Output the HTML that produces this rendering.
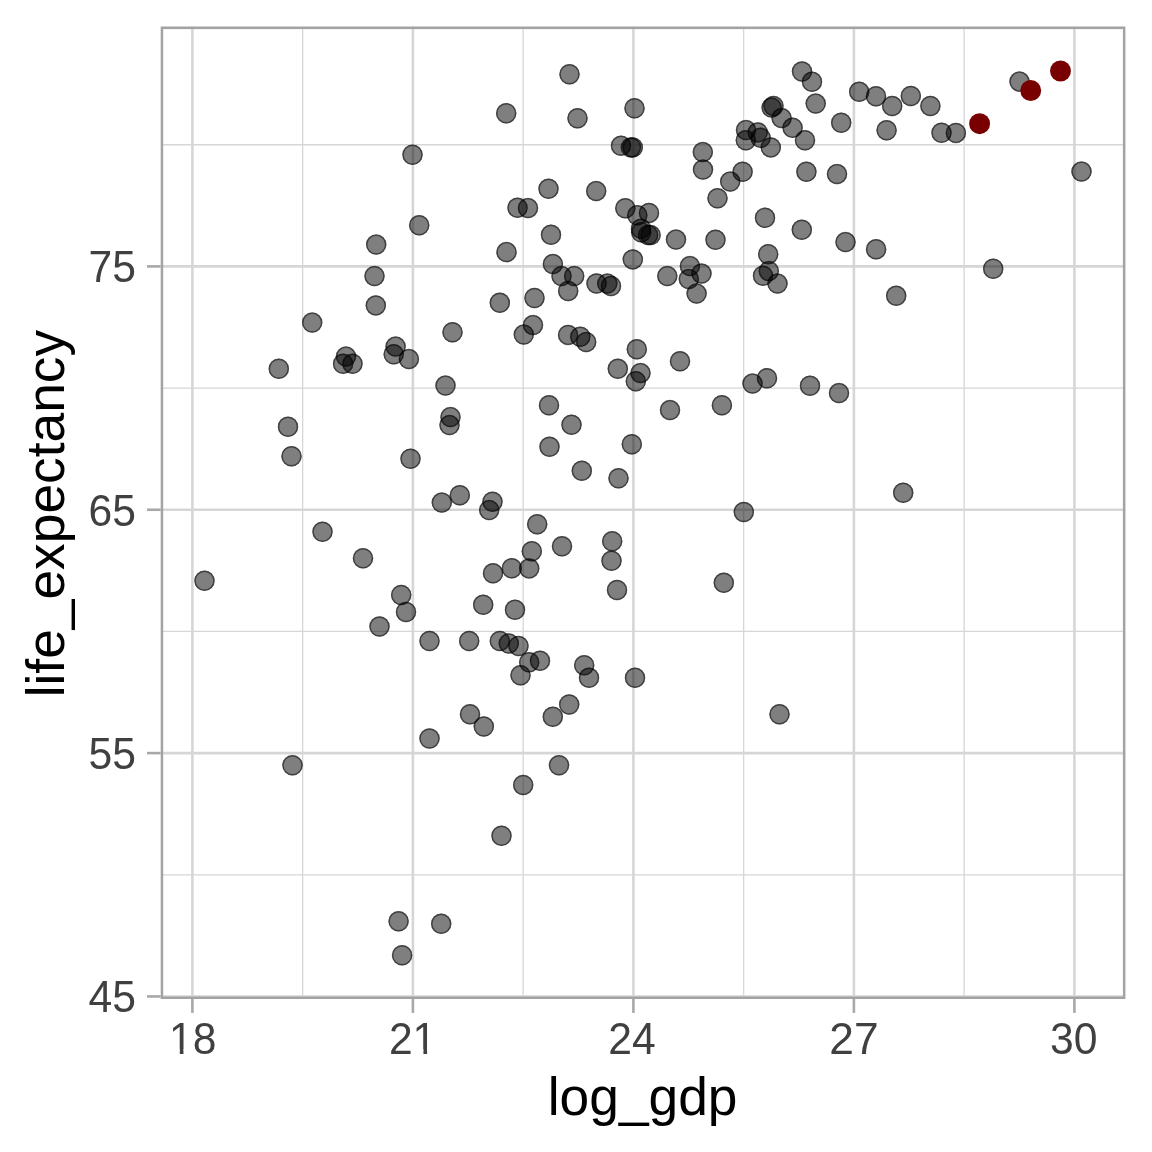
<!DOCTYPE html><html><head><meta charset="utf-8"><title>plot</title><style>html,body{margin:0;padding:0;background:#fff}svg{display:block}text{font-family:"Liberation Sans",Arial,Helvetica,sans-serif}</style></head><body>
<svg width="1152" height="1152" viewBox="0 0 1152 1152">
<rect width="1152" height="1152" fill="#fff"/>
<defs><clipPath id="p"><rect x="160.70" y="26.60" width="964.70" height="972.40"/></clipPath></defs>
<g clip-path="url(#p)">
<line x1="302.65" x2="302.65" y1="26.60" y2="999.00" stroke="#d6d6d6" stroke-width="1.3"/>
<line x1="523.15" x2="523.15" y1="26.60" y2="999.00" stroke="#d6d6d6" stroke-width="1.3"/>
<line x1="743.65" x2="743.65" y1="26.60" y2="999.00" stroke="#d6d6d6" stroke-width="1.3"/>
<line x1="964.15" x2="964.15" y1="26.60" y2="999.00" stroke="#d6d6d6" stroke-width="1.3"/>
<line x1="160.70" x2="1125.40" y1="874.78" y2="874.78" stroke="#d6d6d6" stroke-width="1.3"/>
<line x1="160.70" x2="1125.40" y1="631.42" y2="631.42" stroke="#d6d6d6" stroke-width="1.3"/>
<line x1="160.70" x2="1125.40" y1="388.08" y2="388.08" stroke="#d6d6d6" stroke-width="1.3"/>
<line x1="160.70" x2="1125.40" y1="144.73" y2="144.73" stroke="#d6d6d6" stroke-width="1.3"/>
<line x1="192.40" x2="192.40" y1="26.60" y2="999.00" stroke="#d6d6d6" stroke-width="2.6"/>
<line x1="412.90" x2="412.90" y1="26.60" y2="999.00" stroke="#d6d6d6" stroke-width="2.6"/>
<line x1="633.40" x2="633.40" y1="26.60" y2="999.00" stroke="#d6d6d6" stroke-width="2.6"/>
<line x1="853.90" x2="853.90" y1="26.60" y2="999.00" stroke="#d6d6d6" stroke-width="2.6"/>
<line x1="1074.40" x2="1074.40" y1="26.60" y2="999.00" stroke="#d6d6d6" stroke-width="2.6"/>
<line x1="160.70" x2="1125.40" y1="996.45" y2="996.45" stroke="#d6d6d6" stroke-width="2.6"/>
<line x1="160.70" x2="1125.40" y1="753.10" y2="753.10" stroke="#d6d6d6" stroke-width="2.6"/>
<line x1="160.70" x2="1125.40" y1="509.75" y2="509.75" stroke="#d6d6d6" stroke-width="2.6"/>
<line x1="160.70" x2="1125.40" y1="266.40" y2="266.40" stroke="#d6d6d6" stroke-width="2.6"/>
<defs><g id="d"><circle r="10.2" fill="#000" fill-opacity="0.5"/><circle r="9.5" fill="none" stroke="#000" stroke-opacity="0.5" stroke-width="1.5"/></g></defs>
<use href="#d" x="412.5" y="154.8"/>
<use href="#d" x="419.2" y="225.3"/>
<use href="#d" x="376.2" y="244.6"/>
<use href="#d" x="374.5" y="276.1"/>
<use href="#d" x="375.8" y="305.4"/>
<use href="#d" x="569.5" y="74.3"/>
<use href="#d" x="506.2" y="113.3"/>
<use href="#d" x="577.5" y="118.3"/>
<use href="#d" x="634.5" y="108.3"/>
<use href="#d" x="621.0" y="145.7"/>
<use href="#d" x="630.9" y="147.4"/>
<use href="#d" x="632.8" y="147.4"/>
<use href="#d" x="702.8" y="152.1"/>
<use href="#d" x="703.0" y="169.6"/>
<use href="#d" x="730.2" y="181.6"/>
<use href="#d" x="717.5" y="198.3"/>
<use href="#d" x="548.5" y="188.8"/>
<use href="#d" x="596.2" y="191.1"/>
<use href="#d" x="517.5" y="207.8"/>
<use href="#d" x="528.0" y="208.1"/>
<use href="#d" x="625.3" y="208.2"/>
<use href="#d" x="637.3" y="215.3"/>
<use href="#d" x="649.0" y="212.9"/>
<use href="#d" x="641.0" y="228.8"/>
<use href="#d" x="641.2" y="232.2"/>
<use href="#d" x="648.1" y="235.1"/>
<use href="#d" x="650.6" y="235.1"/>
<use href="#d" x="551.0" y="234.8"/>
<use href="#d" x="676.0" y="239.6"/>
<use href="#d" x="715.5" y="239.7"/>
<use href="#d" x="506.5" y="252.1"/>
<use href="#d" x="632.8" y="259.4"/>
<use href="#d" x="552.9" y="264.1"/>
<use href="#d" x="561.5" y="276.1"/>
<use href="#d" x="574.2" y="276.1"/>
<use href="#d" x="568.2" y="291.0"/>
<use href="#d" x="596.5" y="283.5"/>
<use href="#d" x="607.3" y="283.6"/>
<use href="#d" x="611.0" y="286.0"/>
<use href="#d" x="667.3" y="276.1"/>
<use href="#d" x="689.9" y="266.1"/>
<use href="#d" x="688.8" y="279.1"/>
<use href="#d" x="701.5" y="273.6"/>
<use href="#d" x="696.6" y="293.6"/>
<use href="#d" x="534.5" y="298.0"/>
<use href="#d" x="499.8" y="302.8"/>
<use href="#d" x="802.0" y="71.5"/>
<use href="#d" x="812.0" y="81.7"/>
<use href="#d" x="815.7" y="103.6"/>
<use href="#d" x="859.2" y="91.8"/>
<use href="#d" x="876.0" y="96.2"/>
<use href="#d" x="892.2" y="106.0"/>
<use href="#d" x="910.8" y="96.0"/>
<use href="#d" x="930.4" y="106.0"/>
<use href="#d" x="841.2" y="122.8"/>
<use href="#d" x="886.6" y="130.3"/>
<use href="#d" x="941.5" y="132.8"/>
<use href="#d" x="955.9" y="132.9"/>
<use href="#d" x="771.6" y="107.6"/>
<use href="#d" x="773.5" y="106.0"/>
<use href="#d" x="781.6" y="118.1"/>
<use href="#d" x="792.6" y="127.8"/>
<use href="#d" x="805.0" y="140.3"/>
<use href="#d" x="746.0" y="130.1"/>
<use href="#d" x="745.8" y="140.3"/>
<use href="#d" x="757.7" y="132.4"/>
<use href="#d" x="760.6" y="137.8"/>
<use href="#d" x="770.8" y="147.4"/>
<use href="#d" x="742.6" y="171.8"/>
<use href="#d" x="806.4" y="171.8"/>
<use href="#d" x="837.0" y="174.1"/>
<use href="#d" x="765.0" y="217.8"/>
<use href="#d" x="801.8" y="229.8"/>
<use href="#d" x="845.5" y="242.1"/>
<use href="#d" x="876.1" y="249.3"/>
<use href="#d" x="768.2" y="254.3"/>
<use href="#d" x="768.8" y="271.1"/>
<use href="#d" x="763.0" y="275.8"/>
<use href="#d" x="777.5" y="283.6"/>
<use href="#d" x="896.2" y="295.8"/>
<use href="#d" x="993.2" y="268.8"/>
<use href="#d" x="1019.5" y="81.6"/>
<use href="#d" x="1081.5" y="171.6"/>
<use href="#d" x="312.2" y="322.6"/>
<use href="#d" x="278.8" y="368.8"/>
<use href="#d" x="346.0" y="356.6"/>
<use href="#d" x="343.1" y="363.8"/>
<use href="#d" x="352.5" y="363.8"/>
<use href="#d" x="395.6" y="346.6"/>
<use href="#d" x="393.7" y="354.3"/>
<use href="#d" x="408.9" y="359.1"/>
<use href="#d" x="288.0" y="426.8"/>
<use href="#d" x="291.5" y="456.3"/>
<use href="#d" x="410.5" y="458.8"/>
<use href="#d" x="322.5" y="531.8"/>
<use href="#d" x="363.0" y="558.3"/>
<use href="#d" x="204.5" y="580.7"/>
<use href="#d" x="452.5" y="332.3"/>
<use href="#d" x="533.0" y="325.1"/>
<use href="#d" x="523.8" y="334.6"/>
<use href="#d" x="568.1" y="334.9"/>
<use href="#d" x="580.3" y="336.7"/>
<use href="#d" x="586.2" y="342.1"/>
<use href="#d" x="636.8" y="349.3"/>
<use href="#d" x="680.0" y="361.3"/>
<use href="#d" x="617.8" y="368.8"/>
<use href="#d" x="640.5" y="373.1"/>
<use href="#d" x="635.8" y="381.3"/>
<use href="#d" x="445.5" y="385.6"/>
<use href="#d" x="549.0" y="405.3"/>
<use href="#d" x="670.0" y="410.1"/>
<use href="#d" x="721.9" y="405.2"/>
<use href="#d" x="450.5" y="417.1"/>
<use href="#d" x="449.5" y="425.1"/>
<use href="#d" x="571.5" y="424.8"/>
<use href="#d" x="549.5" y="446.8"/>
<use href="#d" x="631.8" y="444.3"/>
<use href="#d" x="581.8" y="470.8"/>
<use href="#d" x="618.5" y="478.3"/>
<use href="#d" x="459.8" y="495.3"/>
<use href="#d" x="441.8" y="502.6"/>
<use href="#d" x="492.5" y="501.8"/>
<use href="#d" x="489.2" y="510.1"/>
<use href="#d" x="537.2" y="524.3"/>
<use href="#d" x="612.2" y="541.3"/>
<use href="#d" x="562.0" y="546.3"/>
<use href="#d" x="531.8" y="551.3"/>
<use href="#d" x="611.5" y="560.8"/>
<use href="#d" x="511.8" y="568.3"/>
<use href="#d" x="529.2" y="568.4"/>
<use href="#d" x="493.0" y="573.3"/>
<use href="#d" x="617.0" y="590.0"/>
<use href="#d" x="723.8" y="582.7"/>
<use href="#d" x="752.5" y="383.6"/>
<use href="#d" x="767.0" y="378.3"/>
<use href="#d" x="810.0" y="385.8"/>
<use href="#d" x="839.0" y="393.1"/>
<use href="#d" x="903.2" y="492.8"/>
<use href="#d" x="743.8" y="512.0"/>
<use href="#d" x="401.2" y="595.0"/>
<use href="#d" x="406.0" y="612.0"/>
<use href="#d" x="379.5" y="626.5"/>
<use href="#d" x="429.5" y="641.0"/>
<use href="#d" x="429.5" y="738.5"/>
<use href="#d" x="292.5" y="765.3"/>
<use href="#d" x="483.2" y="604.8"/>
<use href="#d" x="515.0" y="609.8"/>
<use href="#d" x="469.2" y="641.0"/>
<use href="#d" x="499.8" y="641.0"/>
<use href="#d" x="508.8" y="643.5"/>
<use href="#d" x="518.5" y="646.0"/>
<use href="#d" x="529.2" y="662.3"/>
<use href="#d" x="540.0" y="660.8"/>
<use href="#d" x="520.5" y="675.3"/>
<use href="#d" x="584.2" y="665.3"/>
<use href="#d" x="589.0" y="677.8"/>
<use href="#d" x="635.0" y="677.8"/>
<use href="#d" x="470.0" y="714.3"/>
<use href="#d" x="483.8" y="726.5"/>
<use href="#d" x="569.2" y="704.5"/>
<use href="#d" x="552.8" y="716.8"/>
<use href="#d" x="559.0" y="765.3"/>
<use href="#d" x="523.2" y="785.0"/>
<use href="#d" x="501.5" y="835.8"/>
<use href="#d" x="779.5" y="714.3"/>
<use href="#d" x="398.6" y="921.3"/>
<use href="#d" x="441.2" y="923.7"/>
<use href="#d" x="402.1" y="955.3"/>
<g fill="#780000">
<circle cx="1060.5" cy="71.0" r="10.45"/>
<circle cx="1030.7" cy="90.5" r="10.45"/>
<circle cx="979.6" cy="123.7" r="10.45"/>
</g>
<rect x="160.70" y="26.60" width="964.70" height="972.40" fill="none" stroke="#a3a3a3" stroke-width="5.0"/>
</g>
<line x1="192.40" x2="192.40" y1="999.00" y2="1012.90" stroke="#a8a8a8" stroke-width="2.6"/>
<line x1="412.90" x2="412.90" y1="999.00" y2="1012.90" stroke="#a8a8a8" stroke-width="2.6"/>
<line x1="633.40" x2="633.40" y1="999.00" y2="1012.90" stroke="#a8a8a8" stroke-width="2.6"/>
<line x1="853.90" x2="853.90" y1="999.00" y2="1012.90" stroke="#a8a8a8" stroke-width="2.6"/>
<line x1="1074.40" x2="1074.40" y1="999.00" y2="1012.90" stroke="#a8a8a8" stroke-width="2.6"/>
<line x1="147.00" x2="160.70" y1="996.45" y2="996.45" stroke="#a8a8a8" stroke-width="2.6"/>
<line x1="147.00" x2="160.70" y1="753.10" y2="753.10" stroke="#a8a8a8" stroke-width="2.6"/>
<line x1="147.00" x2="160.70" y1="509.75" y2="509.75" stroke="#a8a8a8" stroke-width="2.6"/>
<line x1="147.00" x2="160.70" y1="266.40" y2="266.40" stroke="#a8a8a8" stroke-width="2.6"/>
<text transform="translate(192.70,1054.3) scale(1.000,1.033)" font-size="42.67" fill="#404040" text-anchor="middle">18</text>
<text transform="translate(412.60,1054.3) scale(1.000,1.033)" font-size="42.67" fill="#404040" text-anchor="middle">21</text>
<text transform="translate(632.00,1054.3) scale(1.000,1.033)" font-size="42.67" fill="#404040" text-anchor="middle">24</text>
<text transform="translate(853.90,1054.3) scale(1.040,1.033)" font-size="42.67" fill="#404040" text-anchor="middle">27</text>
<text transform="translate(1073.80,1054.3) scale(1.000,1.033)" font-size="42.67" fill="#404040" text-anchor="middle">30</text>
<rect x="169.97" y="1049.4" width="9.85" height="5.4" fill="#fff"/>
<rect x="183.47" y="1049.4" width="9.00" height="5.4" fill="#fff"/>
<rect x="413.60" y="1049.4" width="9.85" height="5.4" fill="#fff"/>
<rect x="427.10" y="1049.4" width="9.00" height="5.4" fill="#fff"/>
<text transform="translate(136.0,1012.45) scale(1,1.033)" font-size="42.67" fill="#404040" text-anchor="end">45</text>
<text transform="translate(136.0,769.10) scale(1,1.033)" font-size="42.67" fill="#404040" text-anchor="end">55</text>
<text transform="translate(136.0,525.75) scale(1,1.033)" font-size="42.67" fill="#404040" text-anchor="end">65</text>
<text transform="translate(136.0,282.40) scale(1,1.033)" font-size="42.67" fill="#404040" text-anchor="end">75</text>
<text transform="translate(642.65,1115.1) scale(1,0.99)" font-size="53.33" fill="#000" text-anchor="middle">log_gdp</text>
<text transform="translate(63.9,513.6) rotate(-90) scale(1,0.99)" font-size="53.33" fill="#000" text-anchor="middle">life_expectancy</text>
</svg></body></html>
